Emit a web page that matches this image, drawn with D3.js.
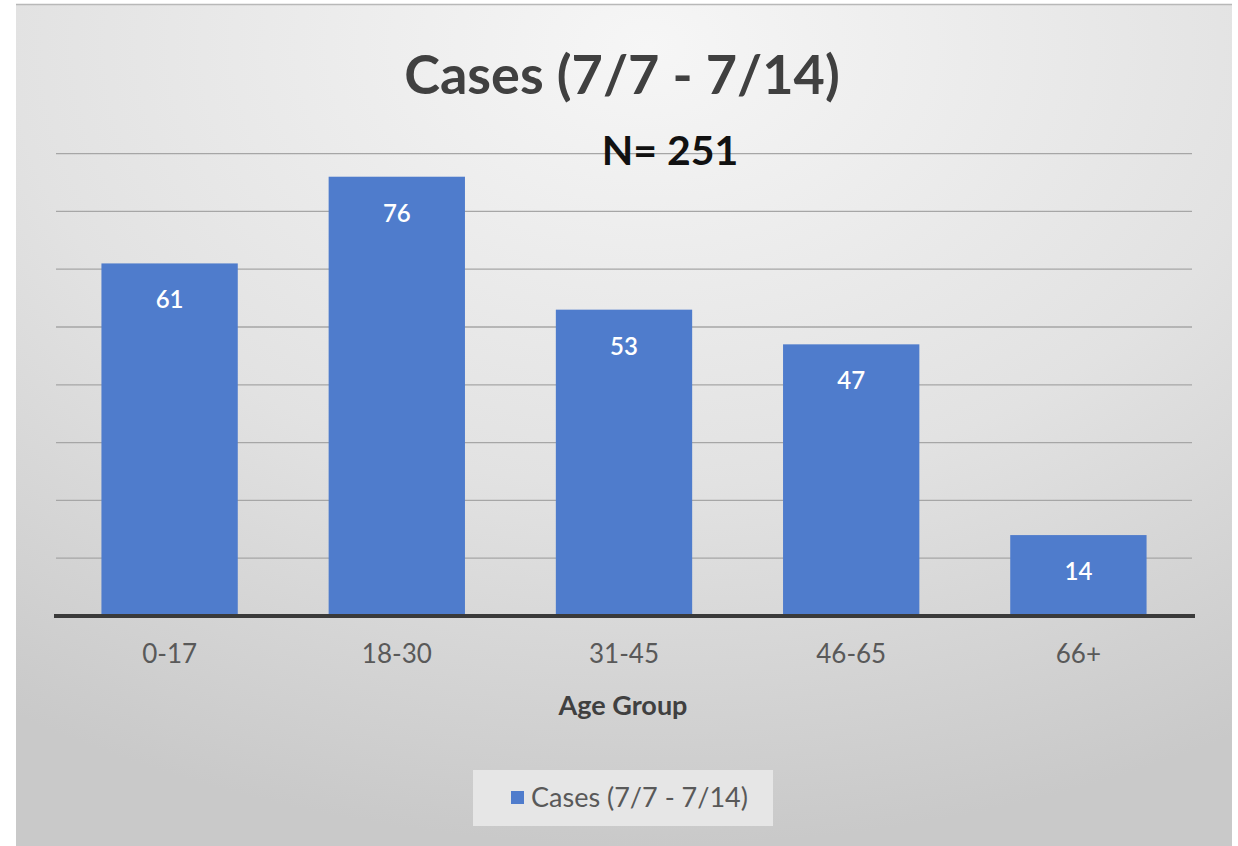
<!DOCTYPE html>
<html>
<head>
<meta charset="utf-8">
<script src="https://cdn.jsdelivr.net/npm/d3@7"></script>
<style>
  body { margin: 0; background: #fff; }
  svg text { font-family: Lato, "Open Sans", sans-serif; }
</style>
</head>
<body>
<svg id="chart" width="1238" height="846"></svg>
<script>
// chart data
var ageGroups = ["0-17", "18-30", "31-45", "46-65", "66+"];
var cases = [61, 76, 53, 47, 14];
var yTicks = [0, 10, 20, 30, 40, 50, 60, 70, 80];
var title = "Cases (7/7 - 7/14)";
var subtitle = "N= 251";
var xTitle = "Age Group";
var seriesName = "Cases (7/7 - 7/14)";

var svg = d3.select("#chart");

// background gradient like the office chart style
var defs = svg.append("defs");
var grad = defs.append("radialGradient")
    .attr("id", "bg")
    .attr("cx", "52%").attr("cy", "5%")
    .attr("r", "95%");
grad.append("stop").attr("offset", "0%").attr("stop-color", "#f6f6f6");
grad.append("stop").attr("offset", "55%").attr("stop-color", "#e2e2e2");
grad.append("stop").attr("offset", "100%").attr("stop-color", "#c9c9c9");

svg.append("rect")
    .attr("x", 16).attr("y", 4)
    .attr("width", 1216).attr("height", 842)
    .attr("fill", "url(#bg)");
svg.append("line")
    .attr("x1", 16).attr("x2", 1232).attr("y1", 4.5).attr("y2", 4.5)
    .attr("stroke", "#b8b8b8").attr("stroke-width", 1.5);

var x = d3.scaleBand()
    .domain(ageGroups)
    .range([56, 1192])
    .paddingInner(0.4)
    .paddingOuter(0.2);

var y = d3.scaleLinear()
    .domain([0, 80])
    .range([616, 153.6]);

// gridlines
svg.append("g")
    .selectAll("line")
    .data(yTicks.slice(1))
    .join("line")
    .attr("x1", 56).attr("x2", 1192)
    .attr("y1", d => y(d)).attr("y2", d => y(d))
    .attr("stroke", "#a6a6a6")
    .attr("stroke-width", 1.3);

// bars
svg.append("g")
    .selectAll("rect")
    .data(cases)
    .join("rect")
    .attr("x", (d, i) => x(ageGroups[i]))
    .attr("width", x.bandwidth())
    .attr("y", d => y(d))
    .attr("height", d => y(0) - y(d))
    .attr("fill", "#4f7ccc");

// value labels
svg.append("g")
    .selectAll("text")
    .data(cases)
    .join("text")
    .attr("x", (d, i) => x(ageGroups[i]) + x.bandwidth() / 2)
    .attr("y", d => y(d) + 45)
    .attr("text-anchor", "middle")
    .attr("fill", "#ffffff")
    .attr("font-size", 24)
    .attr("font-weight", 600)
    .text(d => d);

// x axis
var xAxis = svg.append("g")
    .attr("transform", "translate(0,616)")
    .call(d3.axisBottom(x).tickSize(0).tickPadding(29));
xAxis.select(".domain").remove();
xAxis.append("line")
    .attr("x1", 54).attr("x2", 1195)
    .attr("stroke", "#3a3a3a").attr("stroke-width", 4);
xAxis.selectAll(".tick text")
    .attr("font-family", "Lato, sans-serif")
    .attr("font-size", 26)
    .attr("fill", "#595959");

// titles
svg.append("text")
    .attr("x", 622).attr("y", 94)
    .attr("text-anchor", "middle")
    .attr("font-size", 54)
    .attr("font-weight", 700)
    .attr("fill", "#404040")
    .text(title);

svg.append("text")
    .attr("x", 670).attr("y", 165)
    .attr("text-anchor", "middle")
    .attr("font-size", 41)
    .attr("font-weight", 700)
    .attr("fill", "#111111")
    .text(subtitle);

svg.append("text")
    .attr("x", 623).attr("y", 715)
    .attr("text-anchor", "middle")
    .attr("font-size", 27)
    .attr("font-weight", 700)
    .attr("fill", "#404040")
    .text(xTitle);

// legend
var legend = svg.append("g").attr("transform", "translate(473,770)");
legend.append("rect")
    .attr("width", 300).attr("height", 56)
    .attr("fill", "#e6e6e6");
legend.append("rect")
    .attr("x", 38).attr("y", 21)
    .attr("width", 13).attr("height", 13)
    .attr("fill", "#4f7ccc");
legend.append("text")
    .attr("x", 58).attr("y", 37)
    .attr("font-size", 27)
    .attr("fill", "#595959")
    .text(seriesName);
</script>
</body>
</html>
